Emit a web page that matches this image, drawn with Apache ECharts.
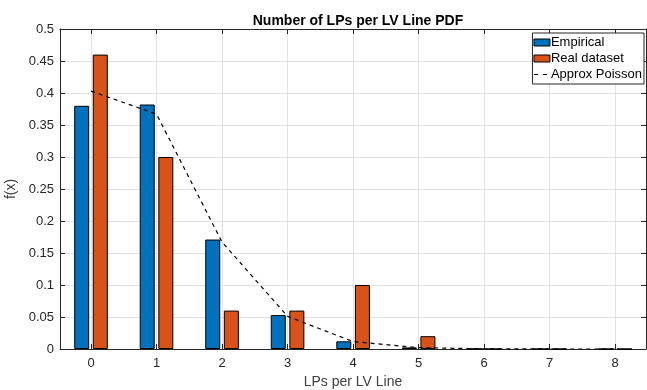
<!DOCTYPE html>
<html>
<head>
<meta charset="utf-8">
<script src="https://cdn.jsdelivr.net/npm/echarts@6/dist/echarts.min.js"></script>
<style>
  html, body { margin: 0; padding: 0; background: #fff; }
  #chart { width: 647px; height: 390px; }
</style>
</head>
<body>
<div id="chart"></div>
<script>
// Number of LPs per LV line: empirical vs. real dataset PDF, with a Poisson approximation
const lpCounts = [0, 1, 2, 3, 4, 5, 6, 7, 8];
const empirical = [0.380, 0.382, 0.171, 0.053, 0.012, 0.0025, 0.0003, 0, 0];
const realDataset = [0.460, 0.300, 0.060, 0.060, 0.100, 0.020, 0, 0, 0];
const approxPoisson = [0.403, 0.367, 0.167, 0.051, 0.0116, 0.0021, 0.0003, 0.00004, 0];

const FONT = '"Liberation Sans", Arial, Helvetica, sans-serif';
const AXIS_COLOR = '#262626';
const GRID_COLOR = '#e3e3e3';
const X_MIN = -0.473, X_MAX = 8.47;

const pair = (vals) => lpCounts.map((x, i) => [x, vals[i]]);
const fmtY = (v) => String(+v.toFixed(2));

const chart = echarts.init(document.getElementById('chart'), null, { renderer: 'canvas' });

const baseX = {
  type: 'value', min: X_MIN, max: X_MAX,
  axisLine: { show: true, onZero: false, lineStyle: { color: AXIS_COLOR, width: 1 } },
  axisTick: { show: true, inside: true, length: 5, customValues: lpCounts, lineStyle: { color: AXIS_COLOR } },
  splitLine: { show: false }
};
const baseY = {
  type: 'value', min: 0, max: 0.5, interval: 0.05,
  axisLine: { show: true, onZero: false, lineStyle: { color: AXIS_COLOR, width: 1 } },
  axisTick: { show: true, inside: true, length: 5, lineStyle: { color: AXIS_COLOR } },
  splitLine: { show: false }
};

chart.setOption({
  animation: false,
  backgroundColor: '#fff',
  title: {
    text: 'Number of LPs per LV Line PDF',
    left: 353, top: 9, textAlign: 'center',
    textStyle: { fontFamily: FONT, fontSize: 14, fontWeight: 'bold', color: '#000' }
  },
  grid: { left: 60, right: 1, top: 29, bottom: 41, containLabel: false, outerBoundsMode: 'none' },
  legend: {
    right: 3, top: 33, orient: 'vertical',
    backgroundColor: '#fff', borderColor: AXIS_COLOR, borderWidth: 1,
    padding: [3, 2, 3, 1], itemGap: 3, itemWidth: 16, itemHeight: 7,
    textStyle: { fontFamily: FONT, fontSize: 13, lineHeight: 13, color: '#000', padding: [0, 0, 0, -4] },
    data: [
      { name: 'Empirical', icon: 'rect', itemStyle: { borderColor: '#000', borderWidth: 1 } },
      { name: 'Real dataset', icon: 'rect', itemStyle: { borderColor: '#000', borderWidth: 1 } },
      {
        name: 'Approx Poisson',
        itemStyle: { color: 'rgba(0,0,0,0)', borderWidth: 0, opacity: 0 },
        lineStyle: { color: '#000', width: 1, type: [4, 5] }
      }
    ]
  },
  xAxis: [
    Object.assign({}, baseX, {
      position: 'bottom',
      name: 'LPs per LV Line', nameLocation: 'middle', nameGap: 24,
      nameTextStyle: { fontFamily: FONT, fontSize: 14, color: '#404040' },
      axisLabel: { show: true, customValues: lpCounts, margin: 8, fontFamily: FONT, fontSize: 13, color: AXIS_COLOR },
      splitLine: { show: true, lineStyle: { color: GRID_COLOR, width: 1 } }
    }),
    Object.assign({}, baseX, { position: 'top', axisLabel: { show: false } })
  ],
  yAxis: [
    Object.assign({}, baseY, {
      position: 'left',
      name: 'f(x)', nameLocation: 'middle', nameGap: 36, nameRotate: 90,
      nameTextStyle: { fontFamily: FONT, fontSize: 14, color: '#404040' },
      axisLabel: { show: true, margin: 6, formatter: fmtY, fontFamily: FONT, fontSize: 13, color: AXIS_COLOR },
      splitLine: { show: true, lineStyle: { color: GRID_COLOR, width: 1 } }
    }),
    Object.assign({}, baseY, { position: 'right', axisLabel: { show: false } })
  ],
  series: [
    {
      name: 'Empirical', type: 'bar', xAxisIndex: 0, yAxisIndex: 0,
      data: pair(empirical), barWidth: 15, barGap: '24%',
      itemStyle: { color: '#0072BD', borderColor: '#000', borderWidth: 1 }
    },
    {
      name: 'Real dataset', type: 'bar', xAxisIndex: 0, yAxisIndex: 0,
      data: pair(realDataset), barWidth: 15, barGap: '24%',
      itemStyle: { color: '#D95319', borderColor: '#000', borderWidth: 1 }
    },
    {
      name: 'Approx Poisson', type: 'line', xAxisIndex: 0, yAxisIndex: 0,
      data: pair(approxPoisson), symbol: 'none', z: 5,
      lineStyle: { color: '#000', width: 1.2, type: [4, 4] },
      itemStyle: { color: '#000' }
    }
  ]
});
</script>
</body>
</html>
